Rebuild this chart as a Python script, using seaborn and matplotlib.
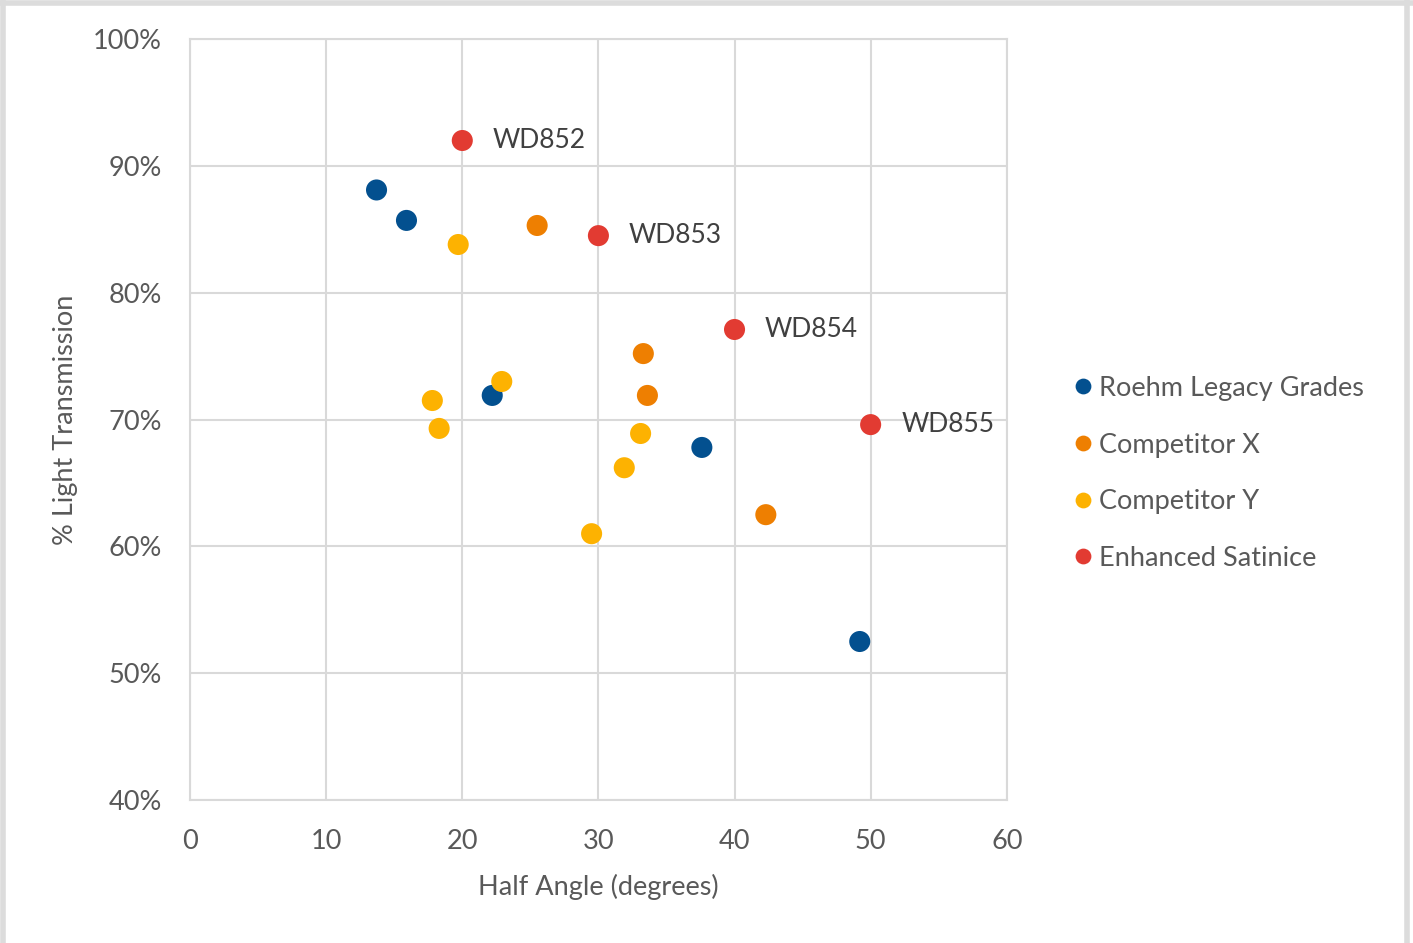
import pandas as pd
import matplotlib.pyplot as plt
from matplotlib.lines import Line2D
import seaborn as sns

# Values
roehm_x = [13.7, 15.9, 22.2, 37.6, 49.2]
roehm_y = [88.1, 85.7, 71.9, 67.8, 52.5]

comp_x_x = [25.5, 33.3, 33.6, 42.3]
comp_x_y = [85.3, 75.2, 71.9, 62.5]

comp_y_x = [19.7, 17.8, 18.3, 22.9, 33.1, 31.9, 29.5]
comp_y_y = [83.8, 71.5, 69.3, 73.0, 68.9, 66.2, 61.0]

sat_x = [20, 30, 40, 50]
sat_y = [92.0, 84.5, 77.1, 69.6]
sat_labels = ["WD852", "WD853", "WD854", "WD855"]

series = ["Roehm Legacy Grades", "Competitor X", "Competitor Y", "Enhanced Satinice"]
colors = ["#03508f", "#ee7f01", "#fdb201", "#e23b32"]

df = pd.concat([
    pd.DataFrame({"x": roehm_x, "y": roehm_y, "group": series[0]}),
    pd.DataFrame({"x": comp_x_x, "y": comp_x_y, "group": series[1]}),
    pd.DataFrame({"x": comp_y_x, "y": comp_y_y, "group": series[2]}),
    pd.DataFrame({"x": sat_x, "y": sat_y, "group": series[3]}),
], ignore_index=True)

sns.set_style("white")
plt.rcParams["font.family"] = ["Lato", "DejaVu Sans"]

fig = plt.figure(figsize=(14.13, 9.43), dpi=100)
# light gray frame on left, top and right
for xs, ys in [([0.002, 0.002], [0, 1]), ([0, 1], [0.997, 0.997]), ([0.996, 0.996], [0, 1])]:
    fig.add_artist(Line2D(xs, ys, transform=fig.transFigure, color="#dcdcdc", linewidth=4))

ax = fig.add_axes([0.1345, 0.1516, 0.578, 0.807])

sns.scatterplot(data=df, x="x", y="y", hue="group", hue_order=series,
                palette=colors, s=230, edgecolor="none", ax=ax, legend=True, zorder=3)

for x, y, lab in zip(sat_x, sat_y, sat_labels):
    ax.annotate(lab, (x, y), xytext=(22, 0), textcoords="offset points",
                va="center", ha="left", fontsize=19, color="#404040")

ax.set_xlim(0, 60)
ax.set_ylim(40, 100)
ax.set_xticks(range(0, 61, 10))
ax.set_yticks(range(40, 101, 10))
ax.set_yticklabels([f"{v}%" for v in range(40, 101, 10)])
ax.tick_params(axis="both", length=0, labelsize=19.5, labelcolor="#595959")
ax.tick_params(axis="x", pad=21)
ax.tick_params(axis="y", pad=20)
ax.grid(True, color="#d9d9d9", linewidth=1.5, zorder=0)
for sp in ax.spines.values():
    sp.set_color("#d9d9d9")
    sp.set_linewidth(1.5)

ax.set_xlabel("Half Angle (degrees)", fontsize=19.5, color="#595959", labelpad=14)
ax.set_ylabel("% Light Transmission", fontsize=19.5, color="#595959", labelpad=11)

handles, labels = ax.get_legend_handles_labels()
ax.legend_.remove()
fig.legend(handles, labels, loc="center left", bbox_to_anchor=(0.758, 0.498),
           frameon=False, fontsize=19.5, labelcolor="#595959", markerscale=0.75,
           handletextpad=0.15, labelspacing=1.17, handlelength=0.9,
           borderaxespad=0, borderpad=0)

fig.savefig("out.png", dpi=100)
